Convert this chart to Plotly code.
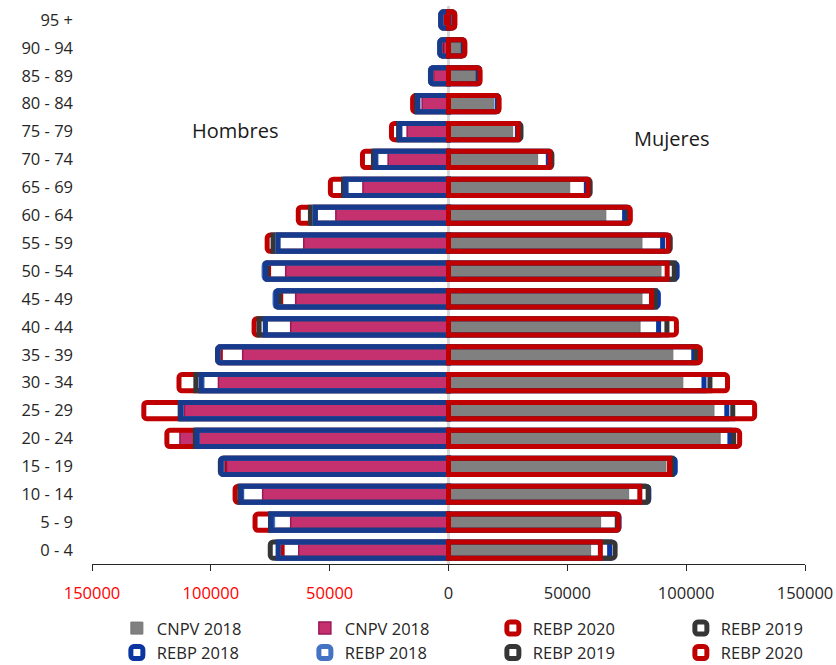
import plotly.graph_objects as go

ages = ["0 - 4", "5 - 9", "10 - 14", "15 - 19", "20 - 24", "25 - 29", "30 - 34",
        "35 - 39", "40 - 44", "45 - 49", "50 - 54", "55 - 59", "60 - 64", "65 - 69",
        "70 - 74", "75 - 79", "80 - 84", "85 - 89", "90 - 94", "95 +"]

# Women (Mujeres)
women_cnpv_2018 = [59800, 64000, 75800, 91500, 114300, 111700, 98600, 94400, 80600, 81400,
                   89400, 81400, 66200, 51000, 37500, 27000, 19000, 11800, 5200, 2000]
women_rebp_2020 = [63900, 71500, 80500, 93000, 122500, 128800, 117400, 106000, 95900, 85400,
                   92000, 92500, 76500, 58700, 42700, 29300, 21300, 13300, 6900, 2700]
women_rebp_2019 = [70100, 71000, 84000, 94000, 120000, 119600, 110000, 104200, 91900, 87000,
                   95000, 93300, 75500, 59600, 43500, 30500, 21000, 13000, 6500, 2500]
women_rebp_2018 = [67800, 71800, 84300, 95400, 118400, 117100, 107500, 103200, 88400, 88300,
                   96200, 90100, 74100, 58000, 42000, 29000, 20500, 12500, 6200, 2300]

# Men (Hombres)
men_cnpv_2018 = [63000, 66400, 78200, 93400, 113000, 111100, 96800, 86600, 66400, 64300,
                 68500, 60900, 47400, 36000, 25400, 17400, 11100, 6500, 2200, 1000]
men_rebp_2020 = [70000, 81400, 89800, 94500, 118500, 128200, 113400, 96000, 81800, 70600,
                 75700, 76300, 63200, 49700, 36200, 24000, 15100, 7000, 2800, 1800]
men_rebp_2019 = [75000, 74900, 87800, 96000, 106500, 112900, 106300, 97200, 79700, 71200,
                 76300, 73800, 58100, 44200, 31600, 21000, 13500, 7600, 3600, 3200]
men_rebp_2018 = [71700, 74600, 87300, 95700, 105800, 112600, 104100, 97000, 77100, 72500,
                 77100, 71700, 56000, 43400, 30800, 20600, 13000, 7500, 3700, 3300]
men_rebp_2018_b = [71500, 74000, 87000, 95200, 105600, 112400, 103700, 96800, 77000, 73000,
                   77600, 71900, 56200, 43000, 30500, 20400, 12800, 7300, 3500, 3100]

x_ticks = [-150000, -100000, -50000, 0, 50000, 100000, 150000]
x_ticktext = ["150000", "100000", "50000", "0", "50000", "100000", "150000"]

RED = "#C00000"
DARK = "#363636"
NAVY = "#173A8C"
NAVY_W = "#0B35A0"
LBLUE = "#4472C4"

FILL_W = 0.62
OUT_W = 0.58
LW = 5

fig = go.Figure()

def neg(v):
    return [-a for a in v]

# filled CNPV bars
fig.add_trace(go.Bar(y=ages, x=women_cnpv_2018, orientation="h", name="CNPV 2018",
                     width=FILL_W, marker=dict(color="#808080", line=dict(color="#767676", width=1)),
                     legendrank=1))
fig.add_trace(go.Bar(y=ages, x=neg(men_cnpv_2018), orientation="h", name="CNPV 2018",
                     width=FILL_W, marker=dict(color="#C5316E", line=dict(color="#9A1758", width=1.5)),
                     legendrank=2))

def outline(vals, name, color, rank, show=True):
    fig.add_trace(go.Bar(y=ages, x=vals, orientation="h", name=name, width=OUT_W,
                         marker=dict(color="rgba(255,255,255,0)", line=dict(color=color, width=LW),
                                     cornerradius=3),
                         legendrank=rank, showlegend=show))

# men outlines (red at back, navy on top)
outline(neg(men_rebp_2020), "REBP 2020", RED, 8)
outline(neg(men_rebp_2019), "REBP 2019", DARK, 7)
outline(neg(men_rebp_2018_b), "REBP 2018", LBLUE, 6)
outline(neg(men_rebp_2018), "REBP 2018", NAVY, 99, show=False)
# women outlines (navy at back, red on top)
outline(women_rebp_2018, "REBP 2018", NAVY_W, 5)
outline(women_rebp_2019, "REBP 2019", DARK, 4)
outline(women_rebp_2020, "REBP 2020", RED, 3)

ticktext = []
for v, t in zip(x_ticks, x_ticktext):
    if v < 0:
        ticktext.append('<span style="color:#FF0000">' + t + '</span>')
    else:
        ticktext.append(t)

fig.update_layout(
    width=836, height=665,
    barmode="overlay",
    paper_bgcolor="white", plot_bgcolor="white",
    font=dict(family="Open Sans", size=16, color="#262626"),
    margin=dict(l=92, r=31, t=6, b=101, autoexpand=False),
    showlegend=True,
    legend=dict(orientation="h", x=-0.01, xanchor="left", y=-0.084, yanchor="top",
                entrywidth=111, entrywidthmode="pixels", indentation=32,
                font=dict(size=16.5, color="#262626"),
                itemwidth=30, tracegroupgap=0, bgcolor="rgba(0,0,0,0)"),
    xaxis=dict(range=[-150000, 150000], tickvals=x_ticks, ticktext=ticktext,
               showgrid=False, zeroline=True, zerolinecolor="#D6D6D6", zerolinewidth=3,
               showline=True, linecolor="#262626", linewidth=1, ticks="outside", ticklen=6,
               tickcolor="#262626", layer="above traces", tickfont=dict(size=16.5),
               ticklabelstandoff=8, automargin=False),
    yaxis=dict(categoryorder="array", categoryarray=ages, showgrid=False, zeroline=False,
               showline=False, ticks="", tickfont=dict(size=16.5), ticklabelstandoff=18,
               range=[-0.5, 19.5], automargin=False),
    annotations=[
        dict(text="Hombres", x=-90000, y=0.776, xref="x", yref="paper", showarrow=False,
             xanchor="center", yanchor="middle", font=dict(size=20, color="#1a1a1a")),
        dict(text="Mujeres", x=94000, y=0.762, xref="x", yref="paper", showarrow=False,
             xanchor="center", yanchor="middle", font=dict(size=20, color="#1a1a1a")),
    ],
)

fig.write_html("out.html", config={"displayModeBar": False},
               post_script="document.body.style.margin='0px';")
